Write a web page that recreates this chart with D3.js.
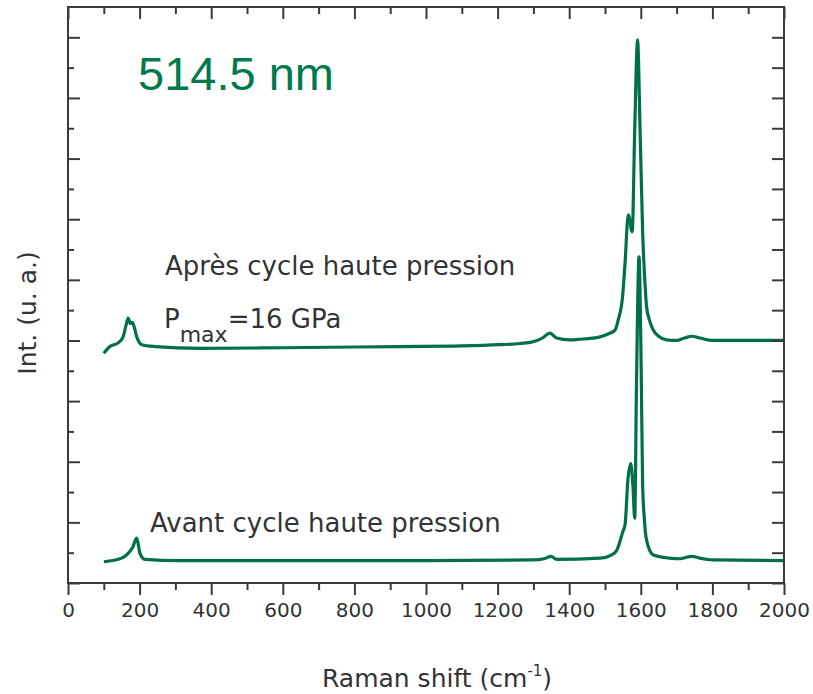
<!DOCTYPE html>
<html>
<head>
<meta charset="utf-8">
<script src="https://cdn.jsdelivr.net/npm/d3@7"></script>
<style>
  html, body { margin: 0; padding: 0; background: #fff; }
  svg { display: block; }
</style>
</head>
<body>
<svg id="chart" width="813" height="694"></svg>
<script>
// ---- Data ----
const shiftAfter = [100,117,140,154,162,168,174,180,186,192,199,206,243,369,600,927,1100,1207,1263,1299,1325,1346,1365,1400,1430,1486,1510,1528,1537,1549,1556,1565,1576,1583,1591,1598,1605,1614,1616,1625,1635,1650,1672,1700,1722,1742,1765,1800,1900,2000];
const intensityAfter = [3.79,3.90,3.96,4.06,4.25,4.37,4.28,4.30,4.20,4.06,3.97,3.93,3.90,3.87,3.88,3.90,3.91,3.93,3.95,3.98,4.04,4.12,4.04,4.01,4.02,4.06,4.11,4.17,4.34,4.72,5.28,6.07,5.79,7.47,8.96,7.47,5.82,4.72,4.56,4.32,4.17,4.07,4.01,4.00,4.04,4.07,4.04,4.00,4.00,4.00];

const shiftBefore = [100,150,168,180,192,201,215,308,600,1000,1300,1330,1349,1365,1486,1520,1533,1550,1556,1564,1572,1578,1583,1588,1595,1601,1605,1610,1616,1635,1680,1710,1725,1742,1765,1800,2000];
const intensityBefore = [0.35,0.41,0.49,0.58,0.74,0.49,0.39,0.37,0.37,0.37,0.38,0.40,0.44,0.39,0.41,0.47,0.54,0.85,0.96,1.70,1.97,1.60,1.07,3.30,5.38,3.57,1.65,1.05,0.71,0.46,0.41,0.40,0.42,0.44,0.41,0.38,0.37];

const xMajorTicks = [0,200,400,600,800,1000,1200,1400,1600,1800,2000];
const xMinorTicks = [100,300,500,700,900,1100,1300,1500,1700,1900];
const yMajorTicks = [0,1,2,3,4,5,6,7,8,9];
const yMinorTicks = [0.5,1.5,2.5,3.5,4.5,5.5,6.5,7.5,8.5];

const titleText = "514.5 nm";
const labelAfter = "Après cycle haute pression";
const labelBefore = "Avant cycle haute pression";
const xTitle = "Raman shift (cm";
const yTitle = "Int. (u. a.)";

// ---- Layout ----
const svg = d3.select("#chart");
const L = 68, R = 784, T = 7, B = 583;
const x = d3.scaleLinear().domain([0, 2000]).range([L, R]);
const y = d3.scaleLinear().domain([0, 9.5]).range([B, T]);

const axisColor = "#3a3a3a";
const green = "#00704A";
const textColor = "#333333";
const font = "'DejaVu Sans', sans-serif";

// ---- Curves ----
const line = d3.line()
  .x(d => x(d[0]))
  .y(d => y(d[1]))
  .curve(d3.curveMonotoneX);

const series = [
  d3.zip(shiftAfter, intensityAfter),
  d3.zip(shiftBefore, intensityBefore)
];
svg.append("g").selectAll("path").data(series).join("path")
  .attr("d", line)
  .attr("fill", "none")
  .attr("stroke", green)
  .attr("stroke-width", 3.2)
  .attr("stroke-linejoin", "round");

// ---- Axes ----
function styleAxis(g) {
  g.select(".domain").remove();
  g.selectAll(".tick line").attr("stroke", axisColor).attr("stroke-width", 2);
  g.selectAll("text").attr("fill", textColor).style("font-family", font).style("font-size", "20px");
}

// bottom: outward ticks
svg.append("g").attr("transform", `translate(0,${B})`)
  .call(d3.axisBottom(x).tickValues(xMajorTicks).tickSize(12).tickPadding(8).tickFormat(d3.format("d")))
  .call(styleAxis);
svg.append("g").attr("transform", `translate(0,${B})`)
  .call(d3.axisBottom(x).tickValues(xMinorTicks).tickSize(7).tickFormat(""))
  .call(styleAxis);
// top: inward ticks
svg.append("g").attr("transform", `translate(0,${T})`)
  .call(d3.axisTop(x).tickValues(xMajorTicks).tickSize(-12).tickFormat(""))
  .call(styleAxis);
svg.append("g").attr("transform", `translate(0,${T})`)
  .call(d3.axisTop(x).tickValues(xMinorTicks).tickSize(-7).tickFormat(""))
  .call(styleAxis);
// left: inward ticks
svg.append("g").attr("transform", `translate(${L},0)`)
  .call(d3.axisLeft(y).tickValues(yMajorTicks).tickSize(-12).tickFormat(""))
  .call(styleAxis);
svg.append("g").attr("transform", `translate(${L},0)`)
  .call(d3.axisLeft(y).tickValues(yMinorTicks).tickSize(-6).tickFormat(""))
  .call(styleAxis);
// right: inward ticks
svg.append("g").attr("transform", `translate(${R},0)`)
  .call(d3.axisRight(y).tickValues(yMajorTicks.concat(yMinorTicks)).tickSize(-12).tickFormat(""))
  .call(styleAxis);

// frame
svg.append("rect")
  .attr("x", L).attr("y", T).attr("width", R - L).attr("height", B - T)
  .attr("fill", "none").attr("stroke", axisColor).attr("stroke-width", 2);

// ---- Texts ----
svg.append("text")
  .attr("x", 138).attr("y", 90)
  .attr("fill", "#007A4D")
  .style("font-family", "'Liberation Sans', Arial, sans-serif")
  .style("font-size", "47px")
  .text(titleText);

svg.append("text")
  .attr("x", 165).attr("y", 275)
  .attr("fill", textColor).style("font-family", font).style("font-size", "26px")
  .text(labelAfter);

const pm = svg.append("text")
  .attr("x", 164).attr("y", 328)
  .attr("fill", textColor).style("font-family", font).style("font-size", "26px");
pm.append("tspan").text("P");
pm.append("tspan").attr("dy", 14).style("font-size", "22px").text("max");
pm.append("tspan").attr("dy", -14).text("=16 GPa");

svg.append("text")
  .attr("x", 150).attr("y", 532)
  .attr("fill", textColor).style("font-family", font).style("font-size", "26px")
  .text(labelBefore);

const xt = svg.append("text")
  .attr("x", 322).attr("y", 687)
  .attr("fill", textColor).style("font-family", font).style("font-size", "25px");
xt.append("tspan").text(xTitle);
xt.append("tspan").attr("dy", -11).style("font-size", "15px").text("-1");
xt.append("tspan").attr("dy", 11).text(")");

svg.append("text")
  .attr("transform", "translate(36,313) rotate(-90)")
  .attr("text-anchor", "middle")
  .attr("fill", textColor).style("font-family", font).style("font-size", "25px")
  .text(yTitle);
</script>
</body>
</html>
